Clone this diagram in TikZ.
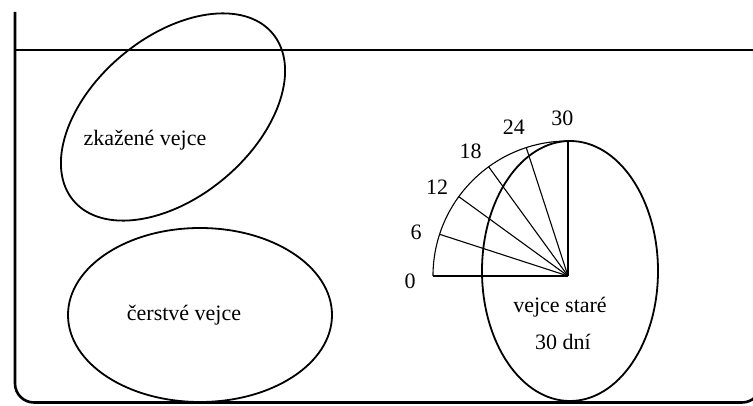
\documentclass[tikz,border=0pt]{standalone}
\usepackage{fontspec}
\setmainfont{Liberation Serif}
\usetikzlibrary{calc}
\begin{document}
\begin{tikzpicture}[
      x=1pt, y=1pt,
      wall/.style={line width=2.6pt, rounded corners=19pt},
      water/.style={line width=1.6pt},
      egg/.style={line width=1.8pt},
      spoke/.style={line width=1.1pt},
      label/.style={font=\fontsize{22}{26}\selectfont, inner sep=0pt},
      day/.style={font=\fontsize{22}{26}\selectfont, inner sep=0pt}
    ]
    \useasboundingbox (0,0) rectangle (753,405);
    \fill[white] (0,0) rectangle (753,405);

    % Container and water level
    \coordinate (wtop) at (15,393);
    \coordinate (wbl) at (15,2.5);
    \coordinate (wbr) at (761,2.5);
    \coordinate (wrt) at (761,393);
    \draw[wall] (wtop) -- (wbl) -- (wbr) -- (wrt);
    \coordinate (lvl0) at (15,355);
    \coordinate (lvl1) at (753,355);
    \draw[water] (lvl0) -- (lvl1);

    % Spoiled egg: floats
    \draw[egg, rotate around={40:(173,288)}] (173,288) ellipse (130 and 80);
    \node[label] (spoiled) at (145,265) {zkažené vejce};

    % Fresh egg: lies flat
    \draw[egg] (200,90) ellipse (132 and 87);
    \node[label] (fresh) at (184,90) {čerstvé vejce};

    % Old egg: stands up
    \draw[egg] (570,134) ellipse (88 and 130);
    \node[label] (old1) at (560,98) {vejce staré};
    \node[label] (old2) at (563,63) {30 dní};

    % Tilt scale in days
    \coordinate (c) at (568,129);
    \draw[spoke] (c) ++(180:135) arc (180:90:135);
    \foreach \d in {0,6,...,30} {
      \coordinate (s\d) at ($(c)+(180-3*\d:135)$);
      \draw[spoke] (c) -- (s\d);
      \node[day] (d\d) at ($(c)+(182-3*\d:158)$) {\d};
    }
  \end{tikzpicture}
\end{document}
